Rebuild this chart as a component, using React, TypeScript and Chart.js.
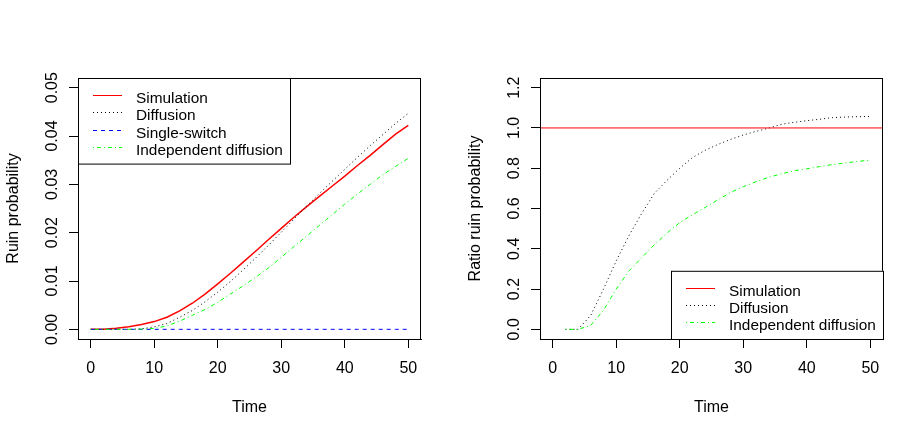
import { useEffect, useRef } from 'react';
import { Chart, registerables } from 'chart.js';

Chart.register(...registerables);

const FONT = '"Liberation Sans", Arial, sans-serif';

// left panel: ruin probability against time
const timeLeft = [0, 2, 4, 6, 8, 10, 12, 14, 16, 18, 20, 22, 24, 26, 28, 30, 32, 34, 36, 38, 40, 42, 44, 46, 48, 50];
const simulation = [0, 0.00003, 0.00022, 0.00055, 0.001, 0.0016, 0.0025, 0.0038, 0.0054, 0.0073, 0.0094, 0.0116, 0.0139, 0.0162, 0.0186, 0.0209, 0.0232, 0.0254, 0.0275, 0.0296, 0.0317, 0.0339, 0.036, 0.0382, 0.0404, 0.0422];
const diffusion = [0, 0, 0, 0.00002, 0.0001, 0.0005, 0.0012, 0.0025, 0.0039, 0.0057, 0.0077, 0.0099, 0.0123, 0.0148, 0.0174, 0.0201, 0.0228, 0.0255, 0.0281, 0.0306, 0.0331, 0.0356, 0.038, 0.0403, 0.0426, 0.0447];
const singleSwitch = [0, 0, 0, 0, 0, 0, 0, 0, 0, 0, 0, 0, 0, 0, 0, 0, 0, 0, 0, 0, 0, 0, 0, 0, 0, 0];
const independent = [0, 0, 0, 0.00001, 0.00005, 0.0002, 0.0007, 0.0017, 0.0029, 0.0041, 0.0056, 0.0073, 0.009, 0.0108, 0.0127, 0.0149, 0.0171, 0.0193, 0.0215, 0.0237, 0.0259, 0.028, 0.03, 0.032, 0.0337, 0.0354];

// right panel: ratio to the simulated ruin probability
const timeRight = [2, 4, 6, 8, 10, 12, 14, 16, 18, 20, 22, 24, 26, 28, 30, 32, 34, 36, 38, 40, 42, 44, 46, 48, 50];
const ratioDiffusion = [0, 0, 0.07, 0.2, 0.34, 0.465, 0.575, 0.675, 0.74, 0.8, 0.853, 0.889, 0.918, 0.943, 0.965, 0.983, 0.999, 1.018, 1.028, 1.036, 1.043, 1.051, 1.054, 1.056, 1.057];
const ratioIndependent = [0, 0, 0.02, 0.095, 0.2, 0.29, 0.355, 0.42, 0.478, 0.53, 0.569, 0.605, 0.643, 0.68, 0.708, 0.733, 0.755, 0.772, 0.787, 0.797, 0.808, 0.818, 0.826, 0.834, 0.84];
const ratioSimulationTime = [-2, 52];
const ratioSimulation = [1, 1];

const xTicks = [0, 10, 20, 30, 40, 50];
const yTicksLeft = [0, 0.01, 0.02, 0.03, 0.04, 0.05];
const yLabelsLeft = ['0.00', '0.01', '0.02', '0.03', '0.04', '0.05'];
const yTicksRight = [0, 0.2, 0.4, 0.6, 0.8, 1.0, 1.2];
const yLabelsRight = ['0.0', '0.2', '0.4', '0.6', '0.8', '1.0', '1.2'];

const pts = (xs: number[], ys: number[]) => xs.map((x, i) => ({ x, y: ys[i] }));

type LegendItem = { label: string; color: string; dash: number[]; width: number };

// R-style box, rotated y tick labels and legend
const rPanel = {
  id: 'rPanel',
  afterDraw(chart: any, _args: any, opts: any) {
    const { ctx, chartArea: a } = chart;
    const y = chart.scales.y;
    ctx.save();
    ctx.strokeStyle = '#000';
    ctx.lineWidth = 1;
    ctx.setLineDash([]);
    ctx.strokeRect(a.left + 0.5, a.top + 0.5, a.right - a.left - 1, a.bottom - a.top);

    ctx.fillStyle = '#000';
    ctx.font = `16px ${FONT}`;
    ctx.textAlign = 'center';
    ctx.textBaseline = 'alphabetic';
    opts.yTicks.forEach((v: number, i: number) => {
      ctx.save();
      ctx.translate(56.5, y.getPixelForValue(v));
      ctx.rotate(-Math.PI / 2);
      ctx.fillText(opts.yLabels[i], 0, 0);
      ctx.restore();
    });

    const items: LegendItem[] = opts.legend.items;
    const w = 212;
    const h = 33.4 + (items.length - 1) * 17.4;
    const bx = opts.legend.corner === 'topleft' ? a.left : a.right - w;
    const by = opts.legend.corner === 'topleft' ? a.top : a.bottom - h;
    ctx.fillStyle = '#fff';
    ctx.fillRect(bx, by, w, h);
    ctx.strokeStyle = '#000';
    ctx.strokeRect(bx + 0.5, by + 0.5, w, h);
    ctx.textAlign = 'left';
    ctx.font = `15.4px ${FONT}`;
    items.forEach((it, i) => {
      const ly = Math.round(by + 16.7 + i * 17.4) + 0.5;
      ctx.strokeStyle = it.color;
      ctx.lineWidth = it.width;
      ctx.setLineDash(it.dash);
      ctx.beginPath();
      ctx.moveTo(bx + 15, ly);
      ctx.lineTo(bx + 44, ly);
      ctx.stroke();
      ctx.setLineDash([]);
      ctx.fillStyle = '#000';
      ctx.fillText(it.label, bx + 58, ly + 7);
    });
    ctx.restore();
  },
};

interface PanelProps {
  datasets: any[];
  yMin: number;
  yMax: number;
  yTitle: string;
  yTicks: number[];
  yLabels: string[];
  legend: { corner: string; items: LegendItem[] };
}

function Panel({ datasets, yMin, yMax, yTitle, yTicks, yLabels, legend }: PanelProps) {
  const canvasRef = useRef<HTMLCanvasElement>(null);

  useEffect(() => {
    if (!canvasRef.current) return;
    const axisCommon = {
      type: 'linear' as const,
      grid: { drawOnChartArea: false, drawTicks: true, tickLength: 9, color: '#000', lineWidth: 1 },
      border: { display: true, color: '#000', width: 1 },
    };
    const chart = new Chart(canvasRef.current, {
      type: 'line',
      data: { datasets },
      plugins: [rPanel],
      options: {
        animation: false,
        responsive: false,
        events: [],
        layout: { padding: { left: 0, top: 78, right: 41, bottom: 0 } },
        elements: { point: { radius: 0 }, line: { tension: 0 } },
        plugins: {
          legend: { display: false },
          tooltip: { enabled: false },
          rPanel: { yTicks, yLabels, legend },
        } as any,
        scales: {
          x: {
            ...axisCommon,
            min: -2,
            max: 52,
            afterBuildTicks: (s: any) => { s.ticks = xTicks.map((v) => ({ value: v })); },
            afterFit: (s: any) => { s.height = 98; },
            ticks: { color: '#000', font: { family: FONT, size: 16 }, padding: 11, maxRotation: 0, autoSkip: false },
            title: { display: true, text: 'Time', color: '#000', font: { family: FONT, size: 16 }, padding: { top: 0, bottom: 20 } },
          },
          y: {
            ...axisCommon,
            min: yMin,
            max: yMax,
            afterBuildTicks: (s: any) => { s.ticks = yTicks.map((v) => ({ value: v })); },
            afterFit: (s: any) => { s.width = 78; },
            ticks: { display: false },
            title: { display: true, text: yTitle, color: '#000', font: { family: FONT, size: 16 }, padding: { top: 3.5, bottom: 0 } },
          },
        },
      },
    });
    return () => chart.destroy();
  }, []);

  return <canvas ref={canvasRef} width={462} height={437} style={{ display: 'block' }} />;
}

const line = (label: string, data: any[], color: string, dash: number[], width: number, order: number) => ({
  label, data, borderColor: color, borderDash: dash, borderWidth: width, order, fill: false,
});

export default function App() {
  useEffect(() => {
    document.body.style.margin = '0';
  }, []);

  const leftSets = [
    line('Simulation', pts(timeLeft, simulation), '#ff0000', [], 1.5, 4),
    line('Diffusion', pts(timeLeft, diffusion), '#000000', [1, 3], 1, 3),
    line('Single-switch', pts(timeLeft, singleSwitch), '#0000ff', [4, 4], 1, 2),
    line('Independent diffusion', pts(timeLeft, independent), '#00ff00', [1, 3, 4, 3], 1, 1),
  ];
  const rightSets = [
    line('Simulation', pts(ratioSimulationTime, ratioSimulation), '#ff0000', [], 1, 1),
    line('Diffusion', pts(timeRight, ratioDiffusion), '#000000', [1, 3], 1, 3),
    line('Independent diffusion', pts(timeRight, ratioIndependent), '#00ff00', [1, 3, 4, 3], 1, 2),
  ];

  return (
    <div style={{ display: 'flex', width: 924, height: 437, background: '#fff', fontFamily: FONT }}>
      <Panel
        datasets={leftSets}
        yMin={-0.002}
        yMax={0.052}
        yTitle="Ruin probability"
        yTicks={yTicksLeft}
        yLabels={yLabelsLeft}
        legend={{
          corner: 'topleft',
          items: [
            { label: 'Simulation', color: '#ff0000', dash: [], width: 1 },
            { label: 'Diffusion', color: '#000000', dash: [1, 3], width: 1 },
            { label: 'Single-switch', color: '#0000ff', dash: [4, 4], width: 1 },
            { label: 'Independent diffusion', color: '#00ff00', dash: [1, 3, 4, 3], width: 1 },
          ],
        }}
      />
      <Panel
        datasets={rightSets}
        yMin={-0.048}
        yMax={1.248}
        yTitle="Ratio ruin probability"
        yTicks={yTicksRight}
        yLabels={yLabelsRight}
        legend={{
          corner: 'bottomright',
          items: [
            { label: 'Simulation', color: '#ff0000', dash: [], width: 1 },
            { label: 'Diffusion', color: '#000000', dash: [1, 3], width: 1 },
            { label: 'Independent diffusion', color: '#00ff00', dash: [1, 3, 4, 3], width: 1 },
          ],
        }}
      />
    </div>
  );
}
